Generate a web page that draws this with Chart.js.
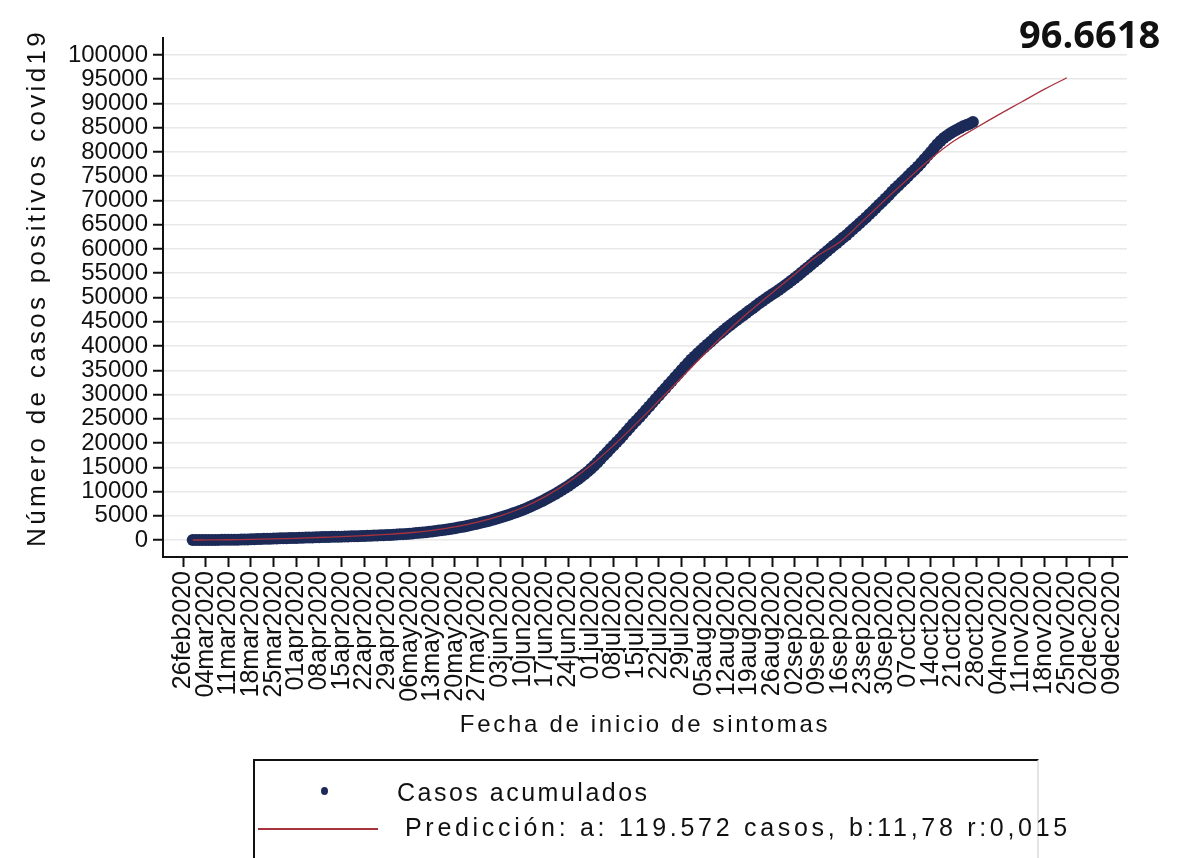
<!DOCTYPE html>
<html>
<head>
<meta charset="utf-8">
<script src="https://cdn.jsdelivr.net/npm/chart.js@4.4.1/dist/chart.umd.min.js"></script>
<style>
  html, body { margin: 0; padding: 0; background: #fff; }
  #wrap { position: relative; width: 1190px; height: 858px; overflow: hidden; font-family: "Liberation Sans", Arial, sans-serif; }
  #c { position: absolute; left: 0; top: 0; }
  #stat { position: absolute; left: 1019px; top: 7px; font-family: "Open Sans", "Noto Sans", sans-serif; font-weight: 700; font-size: 38px; color: #111; }
  #legend { position: absolute; left: 253px; top: 759px; width: 786px; height: 120px; border: 2px solid #111; border-right-color: #e4e4e4; box-sizing: border-box; }
  .lt { position: absolute; font-size: 25px; color: #111; white-space: nowrap; }
  #dot { position: absolute; left: 66px; top: 26px; width: 7px; height: 8px; border-radius: 50%; background: #1c2a58; }
  #ln { position: absolute; left: 3px; top: 67px; width: 120px; height: 2px; background: #a8323e; }
</style>
</head>
<body>
<div id="wrap">
  <canvas id="c" width="1190" height="858"></canvas>
  <div id="stat">96.6618</div>
  <div id="legend">
    <div id="dot"></div>
    <div class="lt" style="left:142px; top:17px; letter-spacing:2.5px;">Casos acumulados</div>
    <div id="ln"></div>
    <div class="lt" style="left:150px; top:52px; letter-spacing:3.7px;">Predicción: a: 119.572 casos, b:11,78 r:0,015</div>
  </div>
</div>
<script>
// Days counted from 26feb2020
const xTickDays = [0,7,14,21,28,35,42,49,56,63,70,77,84,91,98,105,112,119,126,133,140,147,154,161,168,175,182,189,196,203,210,217,224,231,238,245,252,259,266,273,280,287];
const xTickLabels = ['26feb2020','04mar2020','11mar2020','18mar2020','25mar2020','01apr2020','08apr2020','15apr2020','22apr2020','29apr2020','06may2020','13may2020','20may2020','27may2020','03jun2020','10jun2020','17jun2020','24jun2020','01jul2020','08jul2020','15jul2020','22jul2020','29jul2020','05aug2020','12aug2020','19aug2020','26aug2020','02sep2020','09sep2020','16sep2020','23sep2020','30sep2020','07oct2020','14oct2020','21oct2020','28oct2020','04nov2020','11nov2020','18nov2020','25nov2020','02dec2020','09dec2020'];
const yTicks = [0,5000,10000,15000,20000,25000,30000,35000,40000,45000,50000,55000,60000,65000,70000,75000,80000,85000,90000,95000,100000];

// Casos acumulados, one value per day starting at day 3 (29feb2020)
const caseFirstDay = 3;
const caseValues = [
  0,2,5,8,10,15,20,25,30,38,45,52,60,70,80,95,110,130,150,170,
  190,215,240,260,280,300,320,340,360,380,400,420,440,460,480,500,520,540,560,580,
  600,620,640,655,670,685,700,720,740,760,780,800,820,845,870,895,920,940,960,985,
  1010,1050,1090,1130,1170,1215,1260,1310,1370,1430,1490,1555,1620,1700,1780,1860,1950,2040,2130,2230,
  2330,2440,2560,2680,2800,2940,3080,3230,3380,3540,3700,3870,4050,4230,4420,4620,4830,5040,5260,5500,
  5740,5990,6250,6520,6800,7100,7400,7720,8050,8400,8750,9120,9500,9900,10300,10720,11150,11600,12050,12550,
  13050,13570,14100,14700,15300,16000,16700,17400,18100,18800,19500,20200,20900,21650,22400,23150,23900,24600,25300,26050,
  26800,27550,28300,29050,29800,30550,31300,32050,32800,33550,34300,35050,35800,36500,37200,37850,38500,39100,39700,40300,
  40900,41500,42100,42650,43200,43750,44300,44800,45300,45800,46300,46800,47300,47800,48300,48800,49300,49750,50200,50650,
  51100,51550,52000,52500,53000,53500,54000,54550,55100,55650,56200,56750,57300,57850,58400,59000,59600,60150,60700,61250,
  61800,62350,62900,63500,64100,64700,65300,65900,66500,67150,67800,68450,69100,69750,70400,71100,71800,72450,73100,73750,
  74400,75050,75700,76350,77000,77750,78500,79250,80000,80800,81600,82250,82900,83350,83800,84200,84600,84950,85300,85550,
  85800,86200
];

// Predicción
const predDays = [3,7,14,21,28,35,42,49,56,63,70,77,84,91,98,105,112,119,126,133,140,147,154,161,168,175,182,189,196,203,210,217,224,231,238,245,252,259,266,273];
const predValues = [0,20,60,130,230,360,520,700,900,1150,1500,2000,2700,3700,5000,6700,9000,11900,15400,19500,24000,28700,33500,38300,42900,47100,51000,54800,58600,61500,65800,70200,74500,78600,82200,85000,87700,90300,92900,95300];

const casePts = caseValues.map((v, i) => ({ x: caseFirstDay + i, y: v }));
const predPts = predDays.map((d, i) => ({ x: d, y: predValues[i] }));

const titlesPlugin = {
  id: 'titles',
  afterDraw(chart) {
    const ctx = chart.ctx;
    ctx.save();
    ctx.fillStyle = '#111';
    ctx.textAlign = 'center';
    ctx.textBaseline = 'middle';
    ctx.font = '24px "Liberation Sans", Arial, sans-serif';
    ctx.letterSpacing = '2.7px';
    ctx.fillText('Fecha de inicio de sintomas', 645, 725);
    ctx.translate(38, 288);
    ctx.rotate(-Math.PI / 2);
    ctx.font = '26px "Liberation Sans", Arial, sans-serif';
    ctx.letterSpacing = '3.3px';
    ctx.fillText('Número de casos positivos covid19', 0, 0);
    ctx.restore();
  }
};

new Chart(document.getElementById('c'), {
  data: {
    datasets: [
      {
        type: 'line',
        label: 'Predicción',
        data: predPts,
        borderColor: '#a8323e',
        borderWidth: 1.3,
        pointRadius: 0,
        tension: 0.4,
        fill: false
      },
      {
        type: 'scatter',
        label: 'Casos acumulados',
        data: casePts,
        pointRadius: 6,
        pointBorderWidth: 0,
        backgroundColor: '#1c2a58',
        borderColor: '#1c2a58'
      }
    ]
  },
  options: {
    responsive: false,
    animation: false,
    devicePixelRatio: 1,
    layout: { padding: { left: 0, top: 38, right: 63, bottom: 0 } },
    plugins: { legend: { display: false }, tooltip: { enabled: false } },
    scales: {
      x: {
        type: 'linear',
        min: -6.18,
        max: 291.6,
        afterBuildTicks: s => { s.ticks = xTickDays.map(v => ({ value: v })); },
        afterFit: s => { s.height = 301; },
        grid: { drawOnChartArea: false, drawTicks: true, tickLength: 10, tickColor: '#111', tickWidth: 2 },
        border: { display: true, color: '#111', width: 2 },
        ticks: {
          autoSkip: false,
          maxRotation: 90,
          minRotation: 90,
          padding: 4,
          color: '#111',
          font: { family: '"Liberation Sans", Arial, sans-serif', size: 25 },
          callback: (v, i) => xTickLabels[i]
        }
      },
      y: {
        type: 'linear',
        min: -3500,
        max: 103500,
        afterBuildTicks: s => { s.ticks = yTicks.map(v => ({ value: v })); },
        afterFit: s => { s.width = 163; },
        grid: { color: '#e8e8e8', lineWidth: 1.5, drawTicks: true, tickLength: 10, tickColor: '#111', tickWidth: 2 },
        border: { display: true, color: '#111', width: 2 },
        ticks: {
          autoSkip: false,
          padding: 5,
          color: '#111',
          font: { family: '"Liberation Sans", Arial, sans-serif', size: 24 },
          callback: v => String(v)
        }
      }
    }
  },
  plugins: [titlesPlugin]
});
</script>
</body>
</html>
